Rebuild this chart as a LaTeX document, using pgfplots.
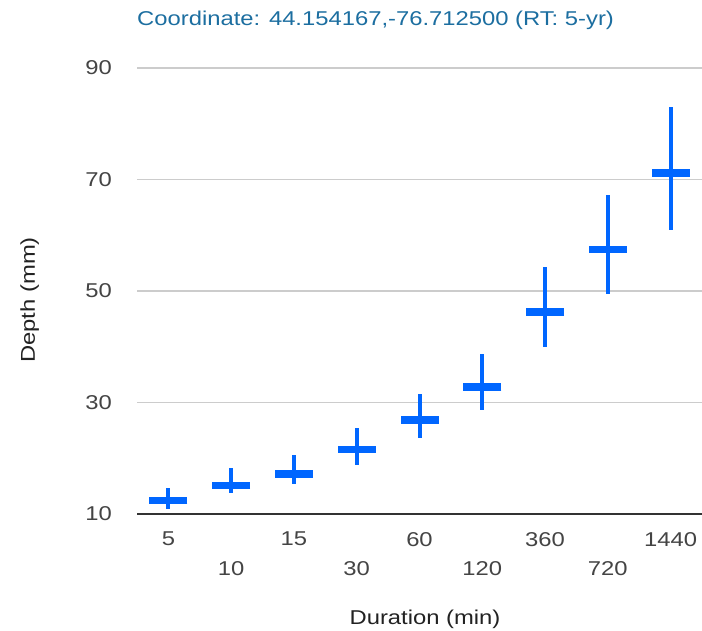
\documentclass[border=0pt]{standalone}
\usepackage{fontspec}
\setmainfont[FakeStretch=1.19]{Liberation Sans}
\usepackage{pgfplots}
\pgfplotsset{compat=1.18}
\usepackage{pgfplotstable}
\definecolor{barblue}{RGB}{0,102,255}
\definecolor{titleblue}{RGB}{28,110,160}
\definecolor{ticktext}{RGB}{68,68,68}
\definecolor{labeltext}{RGB}{34,34,34}
\definecolor{gridgray}{RGB}{204,204,204}
\definecolor{basegray}{RGB}{51,51,51}

% x index, depth, lower, upper
\pgfplotstableread{
x  y     lo     hi
0  12.4  10.95  14.66
1  15.15 13.8   18.25
2  17.2  15.45  20.6
3  21.6  18.85  25.4
4  26.9  23.6   31.5
5  32.8  28.7   38.7
6  46.2  40.0   54.3
7  57.4  49.5   67.3
8  71.2  61.0   83.0
}\depthdata

\newcommand{\lblfont}{\fontsize{20}{24}\selectfont}

\begin{document}
\begin{tikzpicture}[x=1pt,y=1pt]
\useasboundingbox (0,0) rectangle (702,630);
\begin{axis}[
    at={(137pt,116pt)}, anchor=south west,
    scale only axis, width=565pt, height=446pt,
    xmin=-0.5, xmax=8.5, ymin=10, ymax=90,
    axis line style={draw=none},
    ytick={10,30,50,70,90},
    ymajorgrids, grid style={gridgray, line width=1.5pt},
    major tick length=0pt,
    xtick={0,2,4,6,8},
    xticklabels={5,15,60,360,1440},
    extra x ticks={1,3,5,7},
    extra x tick labels={10,30,120,720},
    extra x tick style={xticklabel style={yshift=-29pt}},
    /pgf/number format/assume math mode=true,
    yticklabel style={anchor=east, inner sep=0pt, xshift=-25pt, font=\lblfont, text=ticktext},
    xticklabel style={anchor=north, inner sep=0pt, yshift=-18pt, font=\lblfont, text=ticktext},
    clip=false,
]
\addplot[draw=none, mark=-, mark size=19pt, mark options={line width=7.5pt, barblue},
    error bars/.cd, y dir=both, y explicit, error mark=none,
    error bar style={line width=4pt, barblue}]
    table[x=x, y=y, y error plus expr=\thisrow{hi}-\thisrow{y},
          y error minus expr=\thisrow{y}-\thisrow{lo}] {\depthdata};
\draw[basegray, line width=2pt] (axis cs:-0.5,10) -- (axis cs:8.5,10);
\end{axis}
\node[anchor=base west, inner sep=0pt, text=titleblue, font=\lblfont] at (137,604)
    {Coordinate: 44.154167,-76.712500 (RT: 5-yr)};
\node[anchor=base, inner sep=0pt, text=labeltext, font=\lblfont] at (425,6)
    {Duration (min)};
\node[anchor=base, rotate=90, inner sep=0pt, text=labeltext, font=\lblfont] at (35,330)
    {Depth (mm)};
\end{tikzpicture}
\end{document}
